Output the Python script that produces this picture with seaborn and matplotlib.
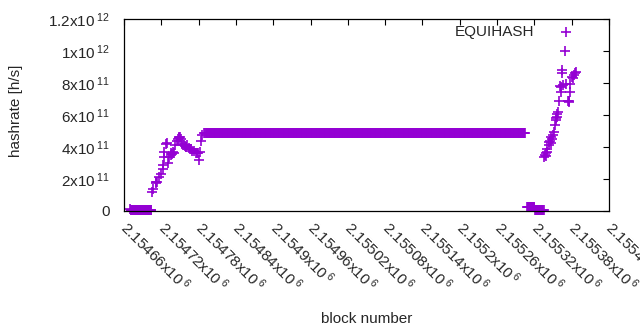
import numpy as np
import pandas as pd
import matplotlib
matplotlib.use("Agg")
import matplotlib.pyplot as plt
import seaborn as sns

# flat stretches: (first block, last block, hashrate)
runs_start = [2154671, 2154791, 2155308, 2155321]
runs_end = [2154704, 2155305, 2155320, 2155335]
runs_rate = [6e9, 4.87e11, 2.2e10, 6e9]

# scattered blocks (ramp up after the first gap)
ramp1_block = [2154669, 2154705, 2154707, 2154711, 2154712, 2154713, 2154716, 2154719,
               2154722, 2154723, 2154724, 2154725, 2154728, 2154729, 2154731, 2154733,
               2154735, 2154736, 2154737, 2154739, 2154740, 2154742, 2154745, 2154747,
               2154748, 2154749, 2154750, 2154751, 2154753, 2154755, 2154756, 2154758,
               2154759, 2154760, 2154762, 2154764, 2154766, 2154768, 2154770, 2154772,
               2154775, 2154777, 2154779, 2154781, 2154783, 2154784, 2154786, 2154788]
ramp1_rate = [0.15, 1.2, 1.4, 1.77, 1.8, 1.83, 2.1, 2.3,
              2.6, 2.9, 3.4, 3.7, 4.2, 4.25, 3.0, 3.4,
              3.5, 3.6, 3.55, 3.7, 3.65, 4.1, 4.4, 4.5,
              4.6, 4.55, 4.6, 4.5, 4.2, 4.1, 4.15, 4.06,
              4.0, 4.0, 4.1, 3.95, 3.9, 3.85, 3.77, 3.75,
              3.6, 3.65, 3.6, 3.2, 3.7, 4.35, 4.75, 4.85]

# scattered blocks (ramp up after the second gap)
ramp2_block = [2155336, 2155337, 2155338, 2155339, 2155340, 2155341, 2155343, 2155344,
               2155345, 2155346, 2155347, 2155348, 2155350, 2155351, 2155353, 2155354,
               2155355, 2155356, 2155357, 2155358, 2155359, 2155361, 2155362, 2155363,
               2155364, 2155365, 2155366, 2155369, 2155371, 2155374, 2155375, 2155376,
               2155377, 2155378, 2155381, 2155382, 2155384, 2155386, 2155387]
ramp2_rate = [3.4, 3.5, 3.6, 3.45, 3.9, 3.7, 4.1, 4.3,
              4.4, 4.25, 4.6, 4.5, 4.75, 4.95, 5.4, 5.7,
              5.8, 5.9, 6.05, 6.2, 6.9, 7.8, 7.75, 7.45,
              8.8, 8.65, 7.9, 10.0, 7.95, 6.9, 6.85, 6.8,
              7.45, 7.95, 8.4, 8.3, 8.5, 8.65, 8.7]

xtick_vals = [2154660, 2154720, 2154780, 2154840, 2154900, 2154960, 2155020,
              2155080, 2155140, 2155200, 2155260, 2155320, 2155380, 2155440]
xtick_text = ["2.15466", "2.15472", "2.15478", "2.15484", "2.1549", "2.15496", "2.15502",
              "2.15508", "2.15514", "2.1552", "2.15526", "2.15532", "2.15538", "2.15544"]
ytick_vals = [0, 2e11, 4e11, 6e11, 8e11, 1e12, 1.2e12]
ytick_text = ["0", r"2x10$^{\;11}$", r"4x10$^{\;11}$", r"6x10$^{\;11}$",
              r"8x10$^{\;11}$", r"1x10$^{\;12}$", r"1.2x10$^{\;12}$"]

# build one table, one row per block
parts = []
for a, b, r in zip(runs_start, runs_end, runs_rate):
    blk = np.arange(a, b + 1)
    parts.append(pd.DataFrame({"block": blk, "rate": np.full(len(blk), r)}))
parts.append(pd.DataFrame({"block": ramp1_block, "rate": np.array(ramp1_rate) * 1e11}))
parts.append(pd.DataFrame({"block": ramp2_block, "rate": np.array(ramp2_rate) * 1e11}))
df = pd.concat(parts, ignore_index=True).sort_values("block")

sns.set_style("white")
plt.rcParams["font.family"] = ["Liberation Sans", "DejaVu Sans"]
plt.rcParams["mathtext.fontset"] = "custom"
plt.rcParams["mathtext.rm"] = "Liberation Sans"
plt.rcParams["mathtext.it"] = "Liberation Sans:italic"

fig = plt.figure(figsize=(6.4, 3.3), dpi=100)
ax = fig.add_axes([124 / 640, 1 - 211 / 330, 485 / 640, 192 / 330])

sns.scatterplot(data=df, x="block", y="rate", marker="+", color="#9400d3",
                s=55, linewidth=1.2, label="EQUIHASH", ax=ax, clip_on=False)

ax.set_xlim(2154660, 2155440)
ax.set_ylim(0, 1.2e12)
ax.set_xticks(xtick_vals)
ax.set_xticklabels([t + r"x10$^{\;6}$" for t in xtick_text], rotation=-45,
                   ha="left", va="center", rotation_mode="anchor", fontsize=11)
ax.set_yticks(ytick_vals)
ax.set_yticklabels(ytick_text, fontsize=11)
ax.tick_params(direction="in", length=4.5, width=0.8, top=True, right=True, color="black")
ax.tick_params(axis="x", pad=10)
ax.tick_params(axis="y", pad=10)
for sp in ax.spines.values():
    sp.set_color("black")
    sp.set_linewidth(0.9)

ax.set_xlabel("block number", fontsize=11)
ax.set_ylabel("hashrate [h/s]", fontsize=11)
ax.xaxis.set_label_coords(0.5, -0.525)
ax.yaxis.set_label_coords(-0.208, 0.52)

leg = ax.legend(loc="upper right", bbox_to_anchor=(0.947, 0.97), frameon=False,
                markerfirst=False, fontsize=11, handlelength=2.2, borderpad=0,
                borderaxespad=0, handletextpad=1.0)

fig.savefig("out.png", dpi=100)
